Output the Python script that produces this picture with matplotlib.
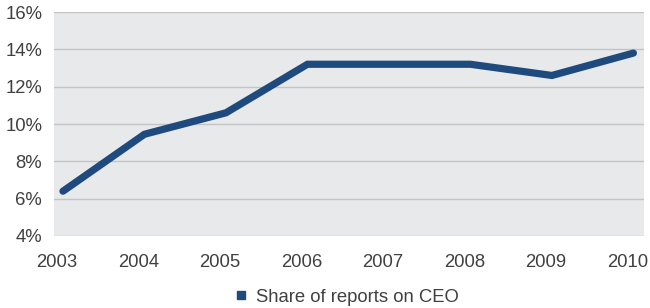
import matplotlib
matplotlib.use("Agg")
import matplotlib.pyplot as plt
import matplotlib.transforms as mtransforms
from matplotlib.ticker import FuncFormatter
from matplotlib.lines import Line2D

years = [2003, 2004, 2005, 2006, 2007, 2008, 2009, 2010]
share_ceo = [6.4, 9.45, 10.6, 13.2, 13.2, 13.2, 12.6, 13.8]
yticks = [4, 6, 8, 10, 12, 14, 16]

NAVY = "#1F4A7E"
BG_PLOT = "#E8E9EB"
GRID = "#C4C4C6"
TEXT = "#404040"

plt.rcParams["font.family"] = ["Liberation Sans", "DejaVu Sans"]

fig = plt.figure(figsize=(6.5, 3.08), dpi=100)
ax = fig.add_axes([54 / 650, 1 - 236 / 308, 590 / 650, 224 / 308])
ax.set_facecolor(BG_PLOT)

ax.plot(years, share_ceo, color=NAVY, linewidth=5.2,
        solid_capstyle="round", solid_joinstyle="miter", zorder=3)

ax.set_ylim(4, 16)
ax.set_xlim(2002.89, 2010.13)
ax.set_yticks(yticks)
ax.set_xticks(years)
ax.yaxis.set_major_formatter(FuncFormatter(lambda v, _: f"{v:.0f}%"))
ax.yaxis.grid(True, color=GRID, linewidth=1)
ax.set_axisbelow(True)
for s in ax.spines.values():
    s.set_visible(False)
ax.tick_params(length=0, labelsize=13.3, colors=TEXT)
ax.tick_params(axis="x", pad=13)
ax.tick_params(axis="y", pad=8.5)

# Excel puts the year labels a few pixels left of the data points
shift = mtransforms.ScaledTranslation(-6 / 100, 0, fig.dpi_scale_trans)
for lbl in ax.get_xticklabels():
    lbl.set_transform(lbl.get_transform() + shift)

handle = Line2D([], [], color=NAVY, marker="s", linestyle="none", markersize=5.5)
fig.legend([handle], ["Share of reports on CEO"], loc="center",
           bbox_to_anchor=(0.531, 1 - 297 / 308), frameon=False,
           fontsize=13.3, labelcolor=TEXT, handletextpad=0.3,
           handlelength=1.0)

fig.savefig("out.png", dpi=100, facecolor="white")
